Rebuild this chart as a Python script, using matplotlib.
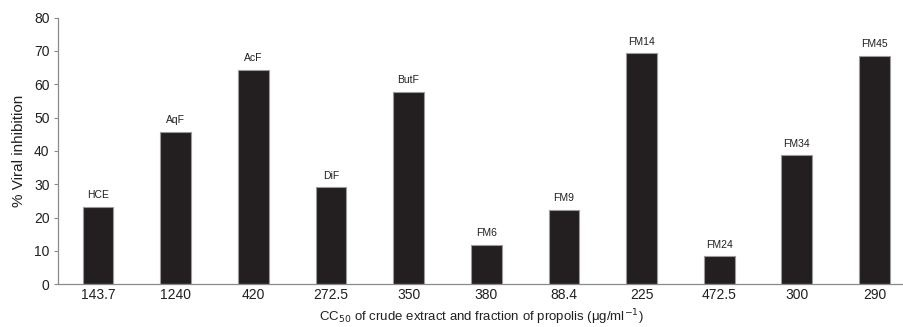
import matplotlib
matplotlib.use("Agg")
import matplotlib.pyplot as plt
import numpy as np

# =============================================================================
# Data
# =============================================================================
fractions = ['HCE', 'AqF', 'AcF', 'DiF', 'ButF', 'FM6', 'FM9', 'FM14', 'FM24', 'FM34', 'FM45']
cc50_labels = ['143.7', '1240', '420', '272.5', '350', '380', '88.4', '225', '472.5', '300', '290']
inhibition = [23.2, 45.8, 64.3, 29.1, 57.7, 11.9, 22.3, 69.3, 8.4, 38.7, 68.5]

plt.rcParams['font.family'] = ['Liberation Sans', 'DejaVu Sans']
axis_grey = '#8a8a8a'
ink = '#231f20'

fig = plt.figure(figsize=(9.04, 3.27), dpi=100)
ax = fig.add_axes([0.064, 0.131, 0.936, 0.815])

x = np.arange(len(fractions))
ax.bar(x, inhibition, width=0.395, color=ink, edgecolor='#9a9a9a', linewidth=0.8)

# fraction names above each bar
for xi, val, name in zip(x, inhibition, fractions):
    ax.text(xi, val + 2.0, name, ha='center', va='bottom', fontsize=7.5, color=ink)

ax.set_xlim(-0.516, 10.38)
ax.set_ylim(0, 80)
ax.set_yticks(np.arange(0, 81, 10))
ax.set_xticks(x)
ax.set_xticklabels(cc50_labels)

for s in ['top', 'right']:
    ax.spines[s].set_visible(False)
for s in ['left', 'bottom']:
    ax.spines[s].set_color(axis_grey)
    ax.spines[s].set_linewidth(0.9)

ax.tick_params(axis='y', length=3, width=0.8, color=axis_grey, labelsize=10, pad=3, labelcolor=ink)
ax.tick_params(axis='x', length=0, labelsize=10, pad=3, labelcolor=ink)

ax.set_ylabel('% Viral inhibition', fontsize=11, color=ink, labelpad=6)
ax.set_xlabel(r'CC$_{50}$ of crude extract and fraction of propolis ($\mathregular{\mu}$g/ml$^{-1}$)',
              fontsize=9.5, color=ink, labelpad=4)

fig.savefig('out.png', dpi=100)
plt.close()
